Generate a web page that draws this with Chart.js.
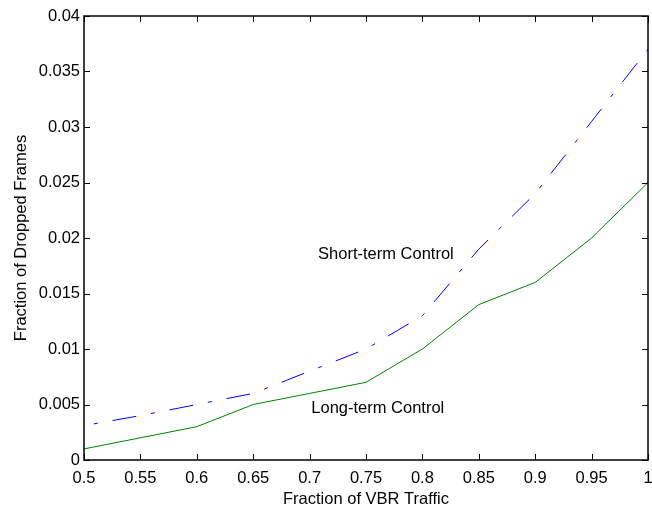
<!DOCTYPE html>
<html>
<head>
<meta charset="utf-8">
<script src="https://cdn.jsdelivr.net/npm/chart.js@4.4.0/dist/chart.umd.min.js"></script>
<style>
  html, body { margin: 0; padding: 0; background: #ffffff; }
  #wrap { width: 652px; height: 514px; position: relative; }
</style>
</head>
<body>
<div id="wrap"><canvas id="chart" width="652" height="514"></canvas></div>
<script>
// Fraction of VBR traffic (x axis)
const vbrFraction = [0.5, 0.55, 0.6, 0.65, 0.7, 0.75, 0.8, 0.85, 0.9, 0.95, 1.0];

// Fraction of dropped frames per control scheme
const shortTermDrops = [0.0031, 0.004, 0.005, 0.006, 0.008, 0.010, 0.013, 0.019, 0.024, 0.0305, 0.037];
const longTermDrops = [0.001, 0.002, 0.003, 0.005, 0.006, 0.007, 0.010, 0.014, 0.016, 0.020, 0.025];

// Text labels placed in the plot (data coordinates, left aligned)
const noteLabels = ['Short-term Control', 'Long-term Control'];
const noteX = [0.7075, 0.7015];
const noteY = [0.0185, 0.0046];

const FONT = 'Liberation Sans, Arial, Helvetica, sans-serif';

const toPoints = (xs, ys) => xs.map((x, i) => ({ x: x, y: ys[i] }));
const fmt = v => String(+Number(v).toFixed(3));

// MATLAB style frame: box plus inward ticks on all four sides
const framePlugin = {
    id: 'frame',
    afterDatasetsDraw(chart) {
        const { ctx, chartArea: a, scales } = chart;
        const len = 6;
        ctx.save();
        ctx.strokeStyle = '#000000';
        ctx.lineWidth = 1;
        scales.x.ticks.forEach((t, i) => {
            const px = Math.round(scales.x.getPixelForTick(i)) + 0.5;
            ctx.beginPath();
            ctx.moveTo(px, a.bottom); ctx.lineTo(px, a.bottom - len);
            ctx.moveTo(px, a.top); ctx.lineTo(px, a.top + len);
            ctx.stroke();
        });
        scales.y.ticks.forEach((t, i) => {
            const py = Math.round(scales.y.getPixelForTick(i)) + 0.5;
            ctx.beginPath();
            ctx.moveTo(a.left, py); ctx.lineTo(a.left + len, py);
            ctx.moveTo(a.right, py); ctx.lineTo(a.right - len, py);
            ctx.stroke();
        });
        ctx.lineWidth = 1.5;
        ctx.strokeRect(a.left, a.top, a.right - a.left, a.bottom - a.top);

        // annotations
        ctx.fillStyle = '#000000';
        ctx.font = '16.5px ' + FONT;
        ctx.textAlign = 'left';
        ctx.textBaseline = 'middle';
        noteLabels.forEach((txt, i) => {
            ctx.fillText(txt, scales.x.getPixelForValue(noteX[i]), scales.y.getPixelForValue(noteY[i]));
        });
        ctx.restore();
    }
};

const ctx = document.getElementById('chart').getContext('2d');
new Chart(ctx, {
    type: 'line',
    data: {
        datasets: [
            {
                label: 'Short-term Control',
                data: toPoints(vbrFraction, shortTermDrops),
                borderColor: '#0000ff',
                borderWidth: 1,
                borderDash: [24, 15, 4, 15],
                borderDashOffset: 29,
                pointRadius: 0,
                tension: 0,
                fill: false
            },
            {
                label: 'Long-term Control',
                data: toPoints(vbrFraction, longTermDrops),
                borderColor: '#008000',
                borderWidth: 1,
                pointRadius: 0,
                tension: 0,
                fill: false
            }
        ]
    },
    options: {
        responsive: false,
        animation: false,
        layout: { padding: { left: 0, right: 4, top: 16, bottom: 0 } },
        plugins: {
            legend: { display: false },
            tooltip: { enabled: false }
        },
        scales: {
            x: {
                type: 'linear',
                min: 0.5,
                max: 1,
                afterFit: s => { s.height = 54; s.paddingLeft = 0; s.paddingRight = 0; },
                grid: { display: false, drawTicks: false },
                border: { display: false },
                ticks: {
                    stepSize: 0.05,
                    padding: 9,
                    color: '#000000',
                    font: { family: FONT, size: 16.5 },
                    maxRotation: 0,
                    autoSkip: false,
                    callback: v => fmt(v)
                },
                title: {
                    display: true,
                    text: 'Fraction of VBR Traffic',
                    color: '#000000',
                    font: { family: FONT, size: 16.5 },
                    padding: { top: 0, bottom: 5 }
                }
            },
            y: {
                min: 0,
                max: 0.04,
                afterFit: s => { s.width = 84; s.paddingTop = 0; s.paddingBottom = 0; },
                grid: { display: false, drawTicks: false },
                border: { display: false },
                ticks: {
                    stepSize: 0.005,
                    padding: 4,
                    color: '#000000',
                    font: { family: FONT, size: 16.5 },
                    autoSkip: false,
                    callback: v => fmt(v)
                },
                title: {
                    display: true,
                    text: 'Fraction of Dropped Frames',
                    color: '#000000',
                    font: { family: FONT, size: 16.5 },
                    padding: { top: 12, bottom: 0 }
                }
            }
        }
    },
    plugins: [framePlugin]
});
</script>
</body>
</html>
